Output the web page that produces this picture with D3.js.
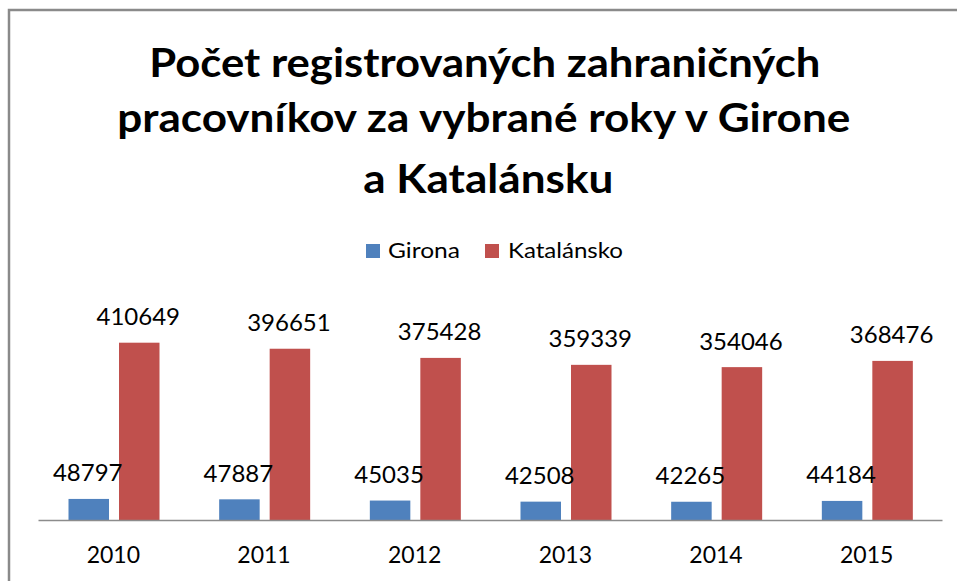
<!DOCTYPE html>
<html>
<head>
<meta charset="utf-8">
<script src="https://cdn.jsdelivr.net/npm/d3@7"></script>
<style>
  html, body { margin: 0; padding: 0; background: #fff; }
  svg { display: block; }
</style>
</head>
<body>
<svg id="chart" width="957" height="581"></svg>
<script>
const titleLines = ["Počet registrovaných zahraničných", "pracovníkov za vybrané roky v Girone", "a Katalánsku"];
const years = ["2010", "2011", "2012", "2013", "2014", "2015"];
const seriesNames = ["Girona", "Katalánsko"];
const girona = [48797, 47887, 45035, 42508, 42265, 44184];
const katalansko = [410649, 396651, 375428, 359339, 354046, 368476];
const colors = ["#4F81BD", "#C0504D"];

const seriesValues = [girona, katalansko];
const rows = years.map((y, i) => ({ year: y, values: seriesNames.map((s, j) => ({ series: s, idx: j, value: seriesValues[j][i] })) }));

const svg = d3.select("#chart");
const font = "Lato, 'Open Sans', sans-serif";

// frame (only top and left edges visible)
svg.append("rect").attr("x", 9).attr("y", 10).attr("width", 1000).attr("height", 700)
  .attr("fill", "none").attr("stroke", "#8a8a8a").attr("stroke-width", 2.5);

// title
const titleBaselines = [77, 132, 192.5];
const titleX = [149.3, 117.3, 363.3];
const titleW = [671, 733, 250];
svg.append("g").selectAll("text").data(titleLines).join("text")
  .attr("x", (d, i) => titleX[i]).attr("y", (d, i) => titleBaselines[i])
  .attr("textLength", (d, i) => titleW[i]).attr("lengthAdjust", "spacingAndGlyphs")
  .attr("font-family", font).attr("font-weight", "bold").attr("font-size", 40)
  .attr("fill", "#000").text(d => d);

// scales
const x0 = d3.scaleBand().domain(years).range([38, 942]).paddingInner(0).paddingOuter(0);
const x1 = d3.scaleBand().domain(seriesNames).range([30.5, 121.5]).paddingInner(0.198).paddingOuter(0);
const y = d3.scaleLinear().domain([0, 450000]).range([520, 325.7]);

// legend
const legendItems = [{ name: seriesNames[0], sx: 366, tx: 388, tw: 72 }, { name: seriesNames[1], sx: 485, tx: 508, tw: 115 }];
const lg = svg.append("g");
lg.selectAll("rect").data(legendItems).join("rect")
  .attr("x", d => d.sx).attr("y", 244).attr("width", 14).attr("height", 14)
  .attr("fill", (d, i) => colors[i]);
lg.selectAll("text").data(legendItems).join("text")
  .attr("x", d => d.tx).attr("y", 258)
  .attr("textLength", d => d.tw).attr("lengthAdjust", "spacingAndGlyphs")
  .attr("font-family", font).attr("font-size", 21.5).attr("fill", "#000")
  .text(d => d.name);

// bars
const groups = svg.append("g").selectAll("g").data(rows).join("g")
  .attr("transform", d => `translate(${x0(d.year)},0)`);
groups.selectAll("rect").data(d => d.values).join("rect")
  .attr("x", d => x1(d.series)).attr("width", x1.bandwidth())
  .attr("y", d => y(d.value)).attr("height", d => y(0) - y(d.value))
  .attr("fill", d => colors[d.idx]);

// data labels
groups.selectAll("text").data(d => d.values).join("text")
  .attr("x", d => x1(d.series) + x1.bandwidth() / 2 - 1)
  .attr("y", d => y(d.value) - 17.5)
  .attr("text-anchor", "middle")
  .attr("font-family", font).attr("font-size", 24).attr("fill", "#000")
  .text(d => d.value);

// x axis
const xAxis = d3.axisBottom(x0).tickSize(0).tickPadding(0);
const ax = svg.append("g").attr("transform", `translate(0,${y(0)})`).call(xAxis);
ax.select(".domain").attr("stroke", "#8c8c8c").attr("stroke-width", 1.3);
ax.selectAll(".tick text")
  .attr("dy", 0).attr("y", 43)
  .attr("font-family", font).attr("font-size", 23).attr("fill", "#000");
</script>
</body>
</html>
